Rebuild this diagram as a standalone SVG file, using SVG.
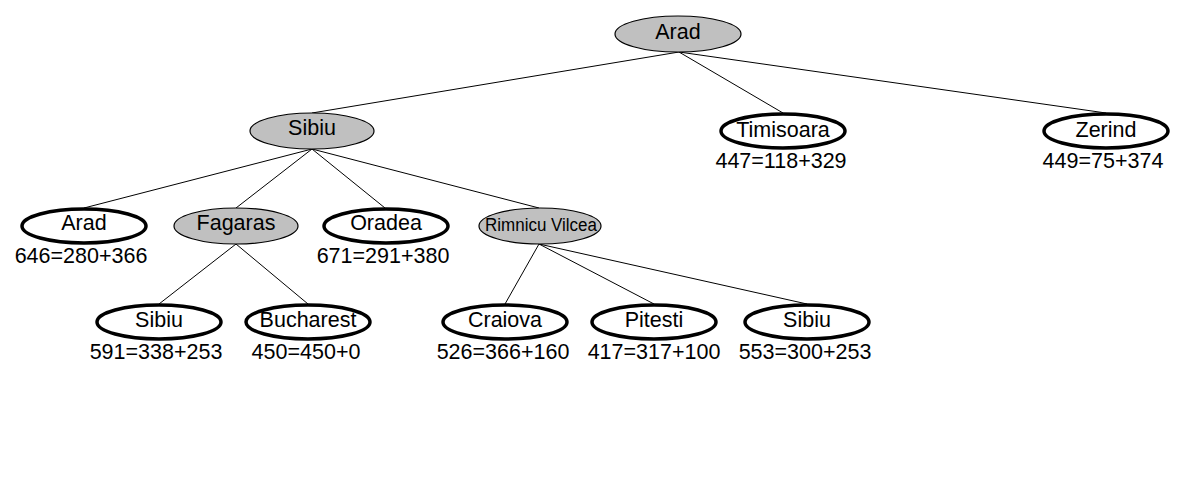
<svg xmlns="http://www.w3.org/2000/svg" width="1184" height="486" viewBox="0 0 1184 486">
<style>
.g{fill:#c0c0c0;stroke:#000;stroke-width:1.2}
.w{fill:#fff;stroke:#000;stroke-width:3.5}
text{font-family:"Liberation Sans",Arial,sans-serif;font-size:21.5px;fill:#000;text-anchor:middle}
.e line{stroke:#000;stroke-width:1}
</style>
<rect width="1184" height="486" fill="#fff"/>
<g class="e" id="edges">
<line x1="679" y1="52" x2="312" y2="113"/>
<line x1="679" y1="52" x2="783" y2="113"/>
<line x1="679" y1="52" x2="1106" y2="113"/>
<line x1="312" y1="149" x2="84" y2="208"/>
<line x1="312" y1="149" x2="236" y2="208"/>
<line x1="312" y1="149" x2="385" y2="208"/>
<line x1="312" y1="149" x2="539" y2="208"/>
<line x1="236" y1="244" x2="159" y2="304"/>
<line x1="236" y1="244" x2="308" y2="304"/>
<line x1="539" y1="244" x2="505" y2="304"/>
<line x1="539" y1="244" x2="654" y2="304"/>
<line x1="539" y1="244" x2="807" y2="304"/>
</g>
<g id="n-arad-root"><ellipse class="g" cx="678" cy="34" rx="63" ry="18"/><text x="678" y="39">Arad</text></g>
<g id="n-sibiu"><ellipse class="g" cx="312" cy="131" rx="62" ry="18"/><text x="312" y="135">Sibiu</text></g>
<g id="n-timisoara"><ellipse class="w" cx="783" cy="131" rx="62" ry="17"/><text x="783" y="137">Timisoara</text><text x="781" y="168">447=118+329</text></g>
<g id="n-zerind"><ellipse class="w" cx="1106" cy="131" rx="62" ry="17"/><text x="1106" y="137">Zerind</text><text x="1103" y="168">449=75+374</text></g>
<g id="n-arad"><ellipse class="w" cx="84" cy="226" rx="62" ry="17"/><text x="84" y="230">Arad</text><text x="81" y="263">646=280+366</text></g>
<g id="n-fagaras"><ellipse class="g" cx="236" cy="226" rx="62" ry="18"/><text x="236" y="230">Fagaras</text></g>
<g id="n-oradea"><ellipse class="w" cx="386" cy="226" rx="62" ry="17"/><text x="386" y="230">Oradea</text><text x="383" y="263">671=291+380</text></g>
<g id="n-rimnicu"><ellipse class="g" cx="540" cy="226" rx="61" ry="18"/><text x="541" y="231" style="font-size:18px" textLength="112" lengthAdjust="spacingAndGlyphs">Rimnicu Vilcea</text></g>
<g id="n-sibiu2"><ellipse class="w" cx="159" cy="322" rx="62" ry="17"/><text x="159" y="327">Sibiu</text><text x="156" y="359">591=338+253</text></g>
<g id="n-bucharest"><ellipse class="w" cx="308" cy="322" rx="62" ry="17"/><text x="308" y="327">Bucharest</text><text x="306" y="359">450=450+0</text></g>
<g id="n-craiova"><ellipse class="w" cx="505" cy="322" rx="62" ry="17"/><text x="505" y="327">Craiova</text><text x="503" y="359">526=366+160</text></g>
<g id="n-pitesti"><ellipse class="w" cx="654" cy="322" rx="62" ry="17"/><text x="654" y="327">Pitesti</text><text x="654" y="359">417=317+100</text></g>
<g id="n-sibiu3"><ellipse class="w" cx="807" cy="322" rx="62" ry="17"/><text x="807" y="327">Sibiu</text><text x="805" y="359">553=300+253</text></g>
</svg>
